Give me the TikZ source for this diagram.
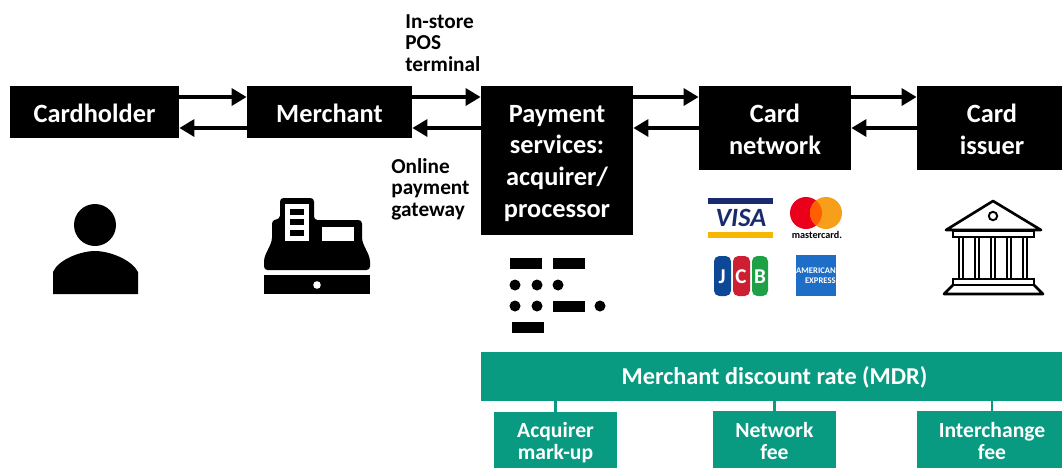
\documentclass[tikz,border=0pt]{standalone}
\usepackage{fontspec}
\setmainfont{Carlito}
\usetikzlibrary{arrows.meta}
\definecolor{mdrgreen}{RGB}{9,155,129}
\definecolor{visablue}{RGB}{26,42,110}
\definecolor{visagold}{RGB}{247,182,0}
\definecolor{mcred}{RGB}{235,0,27}
\definecolor{mcorange}{RGB}{255,95,0}
\definecolor{mcyellow}{RGB}{247,158,27}
\definecolor{jcbblue}{RGB}{12,72,150}
\definecolor{jcbred}{RGB}{205,30,50}
\definecolor{jcbgreen}{RGB}{30,160,70}
\definecolor{amexblue}{RGB}{30,110,200}
\newcommand{\topgap}[1]{\rule{0pt}{#1}}
\begin{document}
\begin{tikzpicture}[
      x=0.02cm,y=-0.02cm,
      party/.style={fill=black,text=white,inner sep=0pt,align=center,
      font=\fontsize{15}{18.15}\selectfont\bfseries},
      feebox/.style={fill=mdrgreen,text=white,inner sep=0pt,align=center,
      font=\fontsize{12.3}{12.4}\selectfont\bfseries},
      channel/.style={inner sep=0pt,align=left,anchor=north west,
      font=\fontsize{12.1}{12.2}\selectfont\bfseries},
      flow/.style={line width=2.2pt,-{Triangle[length=8.5pt,width=9.5pt]}},
      tie/.style={mdrgreen,line width=1.6pt},
    ]
    \useasboundingbox (0,0) rectangle (1062,468);
    \coordinate (upper) at (0,97);
    \coordinate (lower) at (0,128);
    \node[party,minimum width=3.38cm,minimum height=1.04cm] (cardholder) at (94.5,112) {\topgap{12pt}Cardholder};
    \node[party,minimum width=3.30cm,minimum height=1.04cm] (merchant) at (329.5,112) {\topgap{12pt}Merchant};
    \node[party,minimum width=3.04cm,minimum height=2.98cm] (payment) at (557,160.5) {\topgap{13pt}Payment\\services:\\acquirer/\\processor};
    \node[party,minimum width=3.04cm,minimum height=1.68cm] (network) at (775,128) {\topgap{12pt}Card\\network};
    \node[party,minimum width=3.00cm,minimum height=1.68cm] (issuer) at (992,128) {\topgap{12pt}Card\\issuer};
    \node[channel] (instore) at (405,14) {In-store\\POS\\terminal};
    \node[channel] (online) at (391,158) {Online\\payment\\gateway};
    \draw[flow] (cardholder.east |- upper) -- (merchant.west |- upper);
    \draw[flow] (merchant.west |- lower) -- (cardholder.east |- lower);
    \draw[flow] (merchant.east |- upper) -- (payment.west |- upper);
    \draw[flow] (payment.west |- lower) -- (merchant.east |- lower);
    \draw[flow] (payment.east |- upper) -- (network.west |- upper);
    \draw[flow] (network.west |- lower) -- (payment.east |- lower);
    \draw[flow] (network.east |- upper) -- (issuer.west |- upper);
    \draw[flow] (issuer.west |- lower) -- (network.east |- lower);
    % fee boxes
    \node[feebox,minimum width=11.74cm,minimum height=0.98cm,
      font=\fontsize{13.8}{16}\selectfont\bfseries] (mdr) at (774.5,376.5) {\topgap{11pt}Merchant discount rate (MDR)};
    \node[feebox,minimum width=2.46cm,minimum height=1.12cm] (acquirer) at (555.5,440) {\topgap{12pt}Acquirer\\mark-up};
    \node[feebox,minimum width=2.46cm,minimum height=1.14cm] (netfee) at (774.5,439.5) {\topgap{10.5pt}Network\\fee};
    \node[feebox,minimum width=3.00cm,minimum height=1.14cm] (interchange) at (992,439.5) {\topgap{10.5pt}Interchange\\fee};
    \draw[tie] (mdr.south -| acquirer.north) -- (acquirer.north);
    \draw[tie] (mdr.south -| netfee.north) -- (netfee.north);
    \draw[tie] (mdr.south -| interchange.north) -- (interchange.north);
    % person
    \fill (95,225) circle (21);
    \fill (53,294) -- (53,272) .. controls (58,260) and (80,251) .. (95,251)
      .. controls (110,251) and (132,260) .. (138,272) -- (138,294) -- cycle;
    % cash register
    \fill (264,275) rectangle (370,294);
    \fill[white] (317,285) circle (3.8);
    \fill[rounded corners=2pt] (264,270) -- (264,258) -- (272,241) -- (272,220) -- (280,219)
      -- (280,198) -- (314,198) -- (314,220) -- (362,220) -- (362,241) -- (370,258) -- (370,270) -- cycle;
    \fill[white] (285,204) rectangle (309,241);
    \fill[white] (322,227) rectangle (354,241);
    \foreach \ybar in {209,219,230}
      \fill (290,\ybar) rectangle (304,\ybar+6);
    % morse
    \foreach \xbar/\ybar in {510/258,553/258,553/301,512/322}
      \fill (\xbar,\ybar) rectangle (\xbar+32,\ybar+11);
    \foreach \xdot/\ydot in {515/285,537/285,558/285,515/306,537/306,600/306}
      \fill (\xdot,\ydot) circle (5.5);
    % visa
    \fill[visablue] (708,198) rectangle (773,204);
    \fill[visagold] (708,232) rectangle (773,238);
    \node[inner sep=0pt,text=visablue,font=\fontsize{15}{15}\selectfont\bfseries\itshape] (visa) at (741,218) {VISA};
    % mastercard
    \fill[mcred] (806,213) circle (16);
    \fill[mcyellow] (826,213) circle (16);
    \begin{scope}
      \clip (806,213) circle (16);
      \fill[mcorange] (826,213) circle (16);
    \end{scope}
    \node[inner sep=0pt,font=\fontsize{5.8}{5.8}\selectfont\bfseries] (mastercard) at (817,235) {mastercard.};
    % jcb
    \fill[jcbblue,rounded corners=3pt] (714,256) rectangle (731,296);
    \fill[jcbred,rounded corners=3pt] (733,256) rectangle (750,296);
    \fill[jcbgreen,rounded corners=3pt] (752,256) rectangle (768,296);
    \foreach \xjcb/\letter in {722/J,741/C,760/B}
      \node[inner sep=0pt,text=white,font=\fontsize{12}{12}\selectfont\bfseries] at (\xjcb,277) {\letter};
    % amex
    \fill[amexblue] (796,255) rectangle (836,296);
    \node[inner sep=0pt,text=white,font=\fontsize{4.9}{5}\selectfont\bfseries] (american) at (816,271) {AMERICAN};
    \node[inner sep=0pt,text=white,anchor=east,font=\fontsize{4.9}{5}\selectfont\bfseries] (express) at (836,281) {EXPRESS};
    % bank
    \draw[line width=1.5pt,line join=round] (946,230) -- (993,201) -- (1041,230) -- cycle;
    \draw[line width=1.1pt] (993,216) circle (4.2);
    \draw[line width=1.1pt] (953,231) rectangle (1034,237);
    \foreach \xcol in {959,975,991,1007,1023}
      \draw[line width=1pt] (\xcol,237) rectangle (\xcol+4,279);
    \draw[line width=1.1pt] (953,279) rectangle (1034,285);
    \draw[line width=1.5pt,line join=round] (953,285) -- (944,294) -- (1043,294) -- (1034,285);
\end{tikzpicture}
\end{document}
